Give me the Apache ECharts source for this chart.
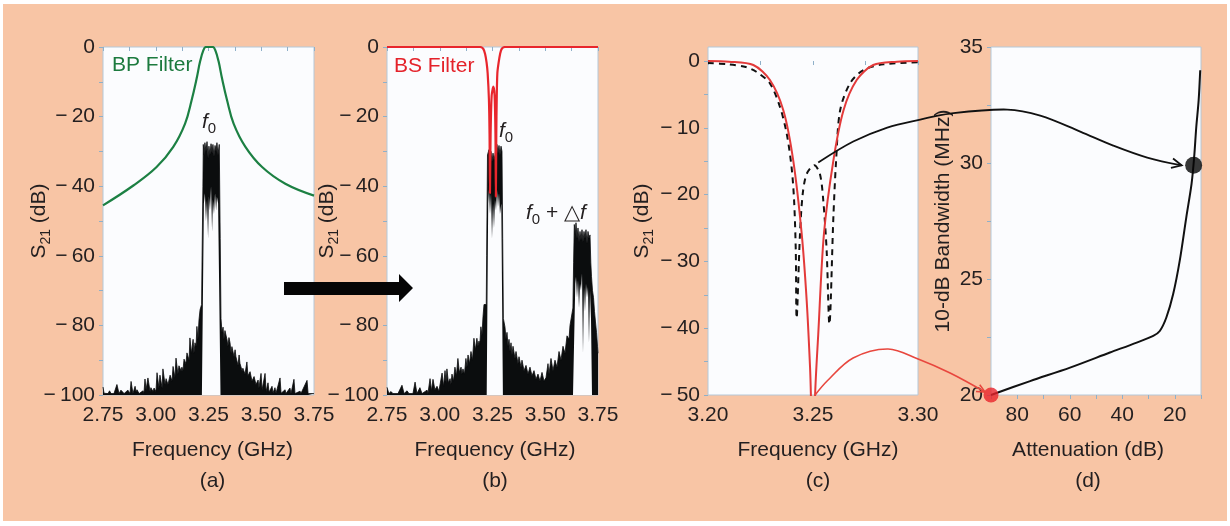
<!DOCTYPE html>
<html>
<head>
<meta charset="utf-8">
<script src="https://cdn.jsdelivr.net/npm/echarts@6/dist/echarts.min.js"></script>
<style>
  html, body { margin: 0; padding: 0; background: #fff; }
  #bg { position: absolute; left: 3px; top: 4px; width: 1224px; height: 517px; background: #f8c5a5; }
  #main { position: absolute; left: 0; top: 0; width: 1230px; height: 526px; }
</style>
</head>
<body>
<div id="bg"></div>
<div id="main"></div>
<script>
const TXT = '#231f20';
const FONT = '"Liberation Sans", Arial, Helvetica, sans-serif';
const PLOT_BG = '#fbfcfe';

// ---- (a) spectrum through the BP filter
const freqA = [2.750, 2.755, 2.759, 2.764, 2.774, 2.781, 2.788, 2.802, 2.816, 2.826, 2.835, 2.850, 2.868, 2.878, 2.883, 2.892, 2.902, 2.907, 2.911, 2.921,
  2.940, 2.944, 2.949, 2.954, 2.959, 2.963, 2.973, 2.977, 2.987, 2.992, 3.001, 3.006, 3.015, 3.020, 3.030, 3.034, 3.044, 3.049, 3.058, 3.068,
  3.077, 3.082, 3.091, 3.096, 3.105, 3.110, 3.120, 3.124, 3.129, 3.134, 3.143, 3.148, 3.158, 3.162, 3.169, 3.177, 3.181, 3.186, 3.191, 3.195,
  3.200, 3.205, 3.210, 3.2173, 3.2197, 3.2235, 3.2253, 3.229, 3.233, 3.238, 3.243, 3.248, 3.252, 3.257, 3.262, 3.267, 3.271, 3.276, 3.281, 3.286,
  3.290, 3.295, 3.301, 3.3055, 3.3092, 3.314, 3.319, 3.323, 3.328, 3.338, 3.342, 3.347, 3.352, 3.357, 3.361, 3.371, 3.376, 3.380, 3.390, 3.395,
  3.399, 3.409, 3.413, 3.423, 3.432, 3.437, 3.447, 3.456, 3.466, 3.475, 3.485, 3.489, 3.499, 3.504, 3.518, 3.523, 3.532, 3.537, 3.551, 3.556,
  3.565, 3.570, 3.589, 3.594, 3.613, 3.617, 3.636, 3.641, 3.655, 3.660, 3.684, 3.688, 3.717, 3.722, 3.750];
const specA = [-97.7, -99.5, -99.0, -99.6, -99.6, -98.8, -99.6, -99.6, -97.0, -99.6, -98.6, -99.6, -98.6, -99.6, -96.1, -99.6, -97.5, -99.2, -98.5, -99.6,
  -98.8, -99.6, -95.4, -98.5, -98.0, -95.1, -99.0, -97.9, -99.0, -98.0, -99.0, -93.6, -98.0, -94.3, -98.0, -92.5, -97.0, -95.3, -97.0, -94.3,
  -96.0, -91.8, -95.0, -89.4, -94.0, -91.6, -93.0, -92.0, -93.0, -89.7, -91.0, -87.9, -90.0, -83.6, -88.0, -84.0, -88.0, -85.0, -86.0, -80.3,
  -84.0, -78.4, -75.5, -74.0, -60.0, -40.0, -28.0, -31.0, -27.5, -30.0, -27.2, -32.0, -28.5, -31.0, -27.8, -30.5, -28.0, -31.5, -28.3, -30.0,
  -27.5, -31.0, -28.0, -55.0, -78.0, -82.0, -80.5, -84.0, -81.5, -84.2, -86.0, -83.5, -85.0, -88.0, -86.1, -89.0, -87.0, -89.0, -91.5, -88.5,
  -90.9, -93.0, -92.3, -94.0, -90.5, -94.5, -93.3, -96.0, -94.7, -97.0, -95.7, -98.0, -93.8, -98.5, -93.8, -99.0, -96.5, -99.2, -97.5, -99.4,
  -97.9, -99.5, -95.1, -99.5, -98.5, -99.6, -98.0, -99.6, -95.5, -99.6, -98.9, -99.6, -95.8, -99.6, -99.6];
// hollow inside of the f0 lobe
const lobeFreqA = [3.2187, 3.2282, 3.233, 3.238, 3.243, 3.248, 3.252, 3.257, 3.262, 3.267, 3.271, 3.276, 3.281, 3.286, 3.290, 3.2955, 3.3069];
const lobeDbA = [-100, -45, -42, -50, -44, -55, -43, -47, -40, -53, -44, -48, -42, -47, -43, -45, -100];
// BP filter response
const bpFreq = [2.750, 2.894, 3.004, 3.083, 3.139, 3.170, 3.194, 3.210, 3.226, 3.238, 3.270, 3.282, 3.298, 3.314, 3.338, 3.369, 3.425, 3.504, 3.614, 3.750];
const bpDb = [-45.5, -39.8, -34.5, -28.7, -22.0, -15.3, -9.0, -4.2, -0.9, 0, 0, -0.9, -4.2, -9.0, -15.3, -22.0, -28.7, -34.5, -39.3, -42.7];

// ---- (b) spectrum with the BS filter
const freqB = [2.750, 2.759, 2.769, 2.778, 2.802, 2.821, 2.831, 2.845, 2.854, 2.873, 2.883, 2.892, 2.906, 2.916, 2.940, 2.944, 2.954, 2.961, 2.968, 2.977,
  2.987, 2.996, 3.011, 3.018, 3.025, 3.030, 3.034, 3.041, 3.049, 3.053, 3.058, 3.065, 3.072, 3.079, 3.086, 3.093, 3.101, 3.105, 3.110, 3.117,
  3.124, 3.129, 3.134, 3.141, 3.148, 3.155, 3.162, 3.169, 3.176, 3.181, 3.186, 3.190, 3.195, 3.200, 3.205, 3.2097, 3.2204, 3.2222, 3.2251, 3.2263,
  3.2287, 3.2334, 3.2382, 3.2429, 3.2476, 3.2524, 3.2571, 3.2618, 3.2666, 3.2713, 3.2761, 3.2808, 3.2855, 3.2903, 3.2950, 3.2983, 3.3015, 3.3045, 3.3092, 3.3140,
  3.3187, 3.3235, 3.3282, 3.3329, 3.3377, 3.3424, 3.3472, 3.3566, 3.3614, 3.3708, 3.3756, 3.3851, 3.3898, 3.3993, 3.4088, 3.4182, 3.4277, 3.4372, 3.4467, 3.4562,
  3.4656, 3.4751, 3.4846, 3.4941, 3.5036, 3.5130, 3.5178, 3.5272, 3.5367, 3.5462, 3.5557, 3.5652, 3.5746, 3.5841, 3.5936, 3.6031, 3.6126, 3.6173, 3.6311, 3.6344,
  3.6377, 3.6424, 3.6457, 3.6505, 3.6552, 3.6600, 3.6647, 3.6694, 3.6742, 3.6789, 3.6836, 3.6884, 3.6931, 3.6979, 3.7026, 3.7073, 3.7121, 3.7159, 3.7192, 3.7239,
  3.7287, 3.7334, 3.7381, 3.7429, 3.7476, 3.7500];
const specB = [-97.8, -99.6, -99.0, -99.6, -99.6, -97.2, -99.6, -98.8, -99.6, -99.6, -96.3, -99.6, -97.9, -99.6, -98.6, -99.6, -95.3, -98.8, -95.5, -98.5,
  -97.5, -98.9, -93.7, -97.5, -93.0, -96.5, -92.5, -96.5, -95.3, -97.0, -94.0, -96.0, -92.0, -94.5, -89.5, -93.5, -92.0, -94.0, -92.5, -94.0,
  -89.5, -92.0, -88.5, -91.0, -87.5, -90.0, -83.7, -87.0, -83.7, -86.0, -84.5, -85.5, -80.4, -83.0, -77.5, -74.0, -74.0, -60.0, -40.0, -31.0,
  -31.0, -29.5, -32.0, -30.0, -33.0, -30.5, -32.5, -31.0, -29.0, -28.0, -30.5, -28.3, -31.0, -28.5, -30.0, -55.0, -78.0, -78.0, -80.5, -84.0,
  -82.0, -86.0, -84.0, -87.5, -85.0, -88.5, -86.0, -89.5, -87.5, -91.0, -89.0, -92.0, -90.0, -93.0, -91.5, -94.0, -92.0, -94.5, -93.0, -95.5,
  -94.0, -96.0, -93.5, -96.0, -95.0, -91.0, -94.0, -89.5, -93.0, -90.0, -92.0, -87.5, -90.0, -86.0, -88.0, -83.0, -84.0, -80.0, -75.0, -62.0,
  -51.0, -54.0, -50.5, -55.0, -52.0, -56.0, -53.0, -55.5, -52.5, -56.0, -53.0, -55.0, -52.5, -56.5, -53.0, -55.0, -54.0, -62.0, -66.0, -70.0,
  -72.0, -76.0, -79.0, -82.0, -86.0, -88.0];
const lobeFreqB = [3.2225, 3.2296, 3.2334, 3.2382, 3.2429, 3.2476, 3.2524, 3.2571, 3.2618, 3.2666, 3.2713, 3.2761, 3.2808, 3.2855, 3.2917, 3.2993];
const lobeDbB = [-100, -45, -41, -48, -42, -55, -45, -52, -44, -47, -41, -46, -42, -48, -45, -100];
const lobe2FreqB = [3.6315, 3.6424, 3.6457, 3.6505, 3.6552, 3.6600, 3.6647, 3.6694, 3.6742, 3.6789, 3.6836, 3.6884, 3.6931, 3.6979, 3.7026, 3.7073, 3.7121, 3.7168, 3.7216];
const lobe2DbB = [-100, -68, -66, -72, -67, -75, -68, -70, -65, -88, -69, -76, -68, -72, -69, -85, -70, -78, -100];
// BS filter response
const bsFreq = [2.75, 3.19, 3.206, 3.215, 3.222, 3.227, 3.233, 3.236, 3.238, 3.241, 3.246, 3.254, 3.260, 3.264, 3.266, 3.268, 3.270, 3.273, 3.279, 3.286, 3.294, 3.31, 3.75];
const bsDb = [0, 0, -0.5, -2, -4.5, -7.5, -15, -25, -42, -25, -14, -11.4, -14, -25, -43, -25, -15, -7.5, -4.5, -2, -0.5, 0, 0];

// ---- (c) notch responses
const notchFreq = [3.200, 3.210, 3.2216, 3.2295, 3.2359, 3.2406, 3.2446, 3.2470, 3.2486, 3.2490, 3.2500, 3.2510, 3.2525, 3.2552, 3.2597, 3.2645, 3.2708, 3.2787, 3.290, 3.300];
const notchDb = [0, -0.1, -0.6, -2.85, -7.4, -14.9, -25.8, -35.9, -45.9, -50, -65, -50, -40.9, -25.9, -14.9, -7.4, -2.85, -0.6, -0.1, 0];
const dashFreq = [3.200, 3.210, 3.218, 3.223, 3.2295, 3.2343, 3.2375, 3.2398, 3.2410, 3.2418, 3.2422, 3.2438, 3.2451, 3.2470, 3.2506, 3.2533, 3.2549, 3.2565, 3.2578,
  3.2597, 3.2610, 3.2629, 3.2676, 3.2740, 3.2835, 3.300];
const dashDb = [-0.3, -0.5, -0.9, -1.6, -3.35, -6.9, -10.9, -15.9, -20.9, -28.4, -38.5, -25.9, -19.9, -16.9, -15.6, -16.9, -20.9, -28.4, -39.4,
  -23.4, -14.9, -7.4, -3.35, -1.35, -0.5, -0.2];

// ---- (d) bandwidth vs attenuation
const attDb = [90, 75.1, 59.9, 44.7, 34.5, 28.2, 25.7, 23.2, 20.6, 18.1, 15.6, 13.6, 12.6, 11.8, 10.9, 10.3];
const bwMHz = [20.0, 20.6, 21.18, 21.83, 22.26, 22.55, 22.76, 23.34, 24.35, 25.79, 27.66, 29.1, 30.26, 31.55, 32.7, 34.0];
const redDot = [90, 20];
const blackDot = [12.8, 29.9];

// ---- ticks
const specTicksX = [2.75, 2.875, 3.0, 3.125, 3.25, 3.375, 3.5, 3.625, 3.75];
const specLabelsX = [2.75, 3.0, 3.25, 3.5, 3.75];
const specTicksY = [-100, -90, -80, -70, -60, -50, -40, -30, -20, -10, 0];
const specLabelsY = [-100, -80, -60, -40, -20, 0];
const cTicksX = [3.2, 3.225, 3.25, 3.275, 3.3];
const cLabelsX = [3.2, 3.25, 3.3];
const cTicksY = [-50, -45, -40, -35, -30, -25, -20, -15, -10, -5, 0];
const cLabelsY = [-50, -40, -30, -20, -10, 0];
const dTicksX = [10, 20, 30, 40, 50, 60, 70, 80, 90];
const dLabelsX = [20, 40, 60, 80];
const dTicksY = [20, 22.5, 25, 27.5, 30, 32.5, 35];
const dLabelsY = [20, 25, 30, 35];

const zip = (xs, ys) => xs.map((x, i) => [x, ys[i]]);
const minus = v => (v < 0 ? '\u2212\u2009' + Math.abs(v) : String(v));

function grid(left, width) {
  return { left: left, top: 47, width: width, height: 348, show: true, backgroundColor: PLOT_BG,
    borderColor: '#b4c8d8', borderWidth: 1, containLabel: false, outerBoundsMode: 'none' };
}

function axis(gi, min, max, ticks, labels, fmt, margin) {
  return {
    type: 'value', gridIndex: gi, min: min, max: max,
    axisLine: { show: false }, splitLine: { show: false },
    axisTick: { show: true, customValues: ticks, length: 4, lineStyle: { color: '#8fb0c9' } },
    axisLabel: { customValues: labels, formatter: fmt, color: TXT, fontSize: 21, fontFamily: FONT, margin: margin,
      showMinLabel: true, showMaxLabel: true }
  };
}

const s21Rich = {
  m: { fontSize: 21, fontFamily: FONT, color: TXT, lineHeight: 28, verticalAlign: 'middle' },
  s: { fontSize: 14, fontFamily: FONT, color: TXT, lineHeight: 28, verticalAlign: 'bottom' }
};
function xName(ax, text, pad) {
  ax.name = text; ax.nameLocation = 'middle'; ax.nameGap = 40;
  ax.nameTextStyle = { color: TXT, fontSize: 21, fontFamily: FONT, lineHeight: 31, padding: pad };
  return ax;
}
function yName(ax, text, gap, rich) {
  ax.name = text; ax.nameLocation = 'middle'; ax.nameGap = gap; ax.nameMoveOverlap = false;
  ax.nameTextStyle = { color: TXT, fontSize: 21, fontFamily: FONT, rich: rich };
  return ax;
}

const fmt2 = v => v.toFixed(2);

const spectrumLine = (gi, data, z) => ({
  type: 'line', xAxisIndex: gi, yAxisIndex: gi, data: data, showSymbol: false, silent: true, z: z,
  lineStyle: { color: '#0b0d0e', width: 0.8 }, areaStyle: { color: '#0b0d0e', opacity: 1, origin: 'start' }
});
const hollow = (gi, data, z) => ({
  type: 'line', xAxisIndex: gi, yAxisIndex: gi, data: data, showSymbol: false, silent: true, z: z,
  lineStyle: { opacity: 0 }, areaStyle: { color: PLOT_BG, opacity: 1, origin: 'start' }
});

const option = {
  animation: false,
  grid: [grid(103, 211), grid(387, 211), grid(708, 210), grid(991, 210)],
  xAxis: [
    xName(axis(0, 2.75, 3.75, specTicksX, specLabelsX, fmt2, 10), 'Frequency (GHz)\n(a)', [0, 0, 0, 8]),
    xName(axis(1, 2.75, 3.75, specTicksX, specLabelsX, fmt2, 10), 'Frequency (GHz)\n(b)', [0, 0, 0, 5]),
    xName(axis(2, 3.2, 3.3, cTicksX, cLabelsX, fmt2, 10), 'Frequency (GHz)\n(c)', [0, 0, 0, 10]),
    Object.assign(xName(axis(3, 10, 90, dTicksX, dLabelsX, v => String(v), 10), 'Attenuation (dB)\n(d)', [0, 16, 0, 0]), { inverse: true })
  ],
  yAxis: [
    yName(axis(0, -100, 0, specTicksY, specLabelsY, minus, 8), '{m|S}{s|21}{m| (dB)}', 50, s21Rich),
    yName(axis(1, -100, 0, specTicksY, specLabelsY, minus, 8), '{m|S}{s|21}{m| (dB)}', 46, s21Rich),
    yName(axis(2, -50, 2.1, cTicksY, cLabelsY, minus, 8), '{m|S}{s|21}{m| (dB)}', 52, s21Rich),
    yName(axis(3, 20, 35, dTicksY, dLabelsY, v => String(v), 8), '10-dB Bandwidth (MHz)', 37, null)
  ],
  series: [
    spectrumLine(0, zip(freqA, specA), 2),
    hollow(0, zip(lobeFreqA, lobeDbA), 3),
    { type: 'line', xAxisIndex: 0, yAxisIndex: 0, data: zip(bpFreq, bpDb), smooth: 0.4, showSymbol: false, silent: true, z: 4,
      lineStyle: { color: '#1c8043', width: 2.2 } },

    spectrumLine(1, zip(freqB, specB), 2),
    hollow(1, zip(lobeFreqB, lobeDbB), 3),
    hollow(1, zip(lobe2FreqB, lobe2DbB), 3),
    { type: 'line', xAxisIndex: 1, yAxisIndex: 1, data: zip(bsFreq, bsDb), smooth: 0.25, showSymbol: false, silent: true, z: 4,
      lineStyle: { color: '#e8262d', width: 2.2 } },

    { type: 'line', xAxisIndex: 2, yAxisIndex: 2, data: zip(dashFreq, dashDb), smooth: 0.3, showSymbol: false, silent: true, z: 3,
      lineStyle: { color: '#111', width: 2, type: [6, 5] } },
    { type: 'line', xAxisIndex: 2, yAxisIndex: 2, data: zip(notchFreq, notchDb), smooth: 0.3, showSymbol: false, silent: true, z: 4,
      lineStyle: { color: '#e33a3a', width: 2 } },

    { type: 'line', xAxisIndex: 3, yAxisIndex: 3, data: zip(attDb, bwMHz), smooth: 0.3, showSymbol: false, silent: true, z: 3,
      lineStyle: { color: '#111', width: 2 } },
    { type: 'scatter', xAxisIndex: 3, yAxisIndex: 3, data: [blackDot], symbolSize: 17, clip: false, silent: true, z: 5,
      itemStyle: { color: '#050505' } },
    { type: 'scatter', xAxisIndex: 3, yAxisIndex: 3, data: [redDot], symbolSize: 15, clip: false, silent: true, z: 5,
      itemStyle: { color: '#e8232b' } }
  ]
};

const chart = echarts.init(document.getElementById('main'));
chart.setOption(option);

// ---- annotations
const px = (gi, pt) => chart.convertToPixel({ gridIndex: gi }, pt);
const fRich = {
  i: { fontSize: 21, fontStyle: 'italic', fontFamily: FONT, fill: TXT, lineHeight: 28, verticalAlign: 'middle' },
  s: { fontSize: 15, fontFamily: FONT, fill: TXT, lineHeight: 28, verticalAlign: 'bottom' },
  n: { fontSize: 21, fontFamily: FONT, fill: TXT, lineHeight: 28, verticalAlign: 'middle' }
};
function label(x, y, text, color, rich) {
  return { type: 'text', x: x, y: y, z: 100, silent: true,
    style: { text: text, fill: color, font: '21px ' + FONT, verticalAlign: 'middle', rich: rich } };
}
function offsetPath(start, offs) {
  return offs.map(o => [start[0] + o[0], start[1] + o[1]]);
}
function arrowHead(pts, len, color, width) {
  const a = pts[pts.length - 2], b = pts[pts.length - 1];
  const ang = Math.atan2(b[1] - a[1], b[0] - a[0]);
  const p1 = [b[0] - len * Math.cos(ang - 0.45), b[1] - len * Math.sin(ang - 0.45)];
  const p2 = [b[0] - len * Math.cos(ang + 0.45), b[1] - len * Math.sin(ang + 0.45)];
  return { type: 'polyline', z: 100, silent: true, shape: { points: [p1, b, p2] },
    style: { stroke: color, lineWidth: width, fill: null } };
}

const humpStart = px(2, [3.2525, -15.2]);
const blackEnd = px(3, blackDot);
const blackPts = offsetPath(humpStart, [[0, 0], [35, -21], [69, -35], [102, -43], [132, -49], [189, -53], [222, -47], [262, -31], [295, -17], [329, -5]]);
blackPts.push([blackEnd[0] - 12, blackEnd[1]]);

const notchStart = px(2, [3.251, -50]);
const redEnd = px(3, redDot);
const redPts = offsetPath(notchStart, [[0, 0], [12, -14], [38, -37], [73, -46], [103, -36], [135, -22]]);
redPts.push([redEnd[0] - 6, redEnd[1] - 3]);

chart.setOption({
  graphic: [
    // big arrow between (a) and (b)
    { type: 'polygon', z: 100, silent: true,
      shape: { points: [[284, 282], [399, 282], [399, 274], [413, 288], [399, 302], [399, 295], [284, 295]] },
      style: { fill: '#050505' } },
    label(112, 65, 'BP Filter', '#1c7a3e', null),
    label(394, 66, 'BS Filter', '#e4222a', null),
    label(202, 122, '{i|f}{s|0}', TXT, fRich),
    label(499, 131, '{i|f}{s|0}', TXT, fRich),
    label(526, 213, '{i|f}{s|0}{n| + \u25B3}{i|f}', TXT, fRich),
    { type: 'polyline', z: 100, silent: true, shape: { points: blackPts, smooth: 0.35 },
      style: { stroke: '#111', lineWidth: 1.8, fill: null } },
    arrowHead(blackPts, 11, '#111', 1.8),
    { type: 'polyline', z: 100, silent: true, shape: { points: redPts, smooth: 0.35 },
      style: { stroke: '#e8473e', lineWidth: 1.6, fill: null } },
    arrowHead(redPts, 9, '#e8473e', 1.6)
  ]
});
</script>
</body>
</html>
